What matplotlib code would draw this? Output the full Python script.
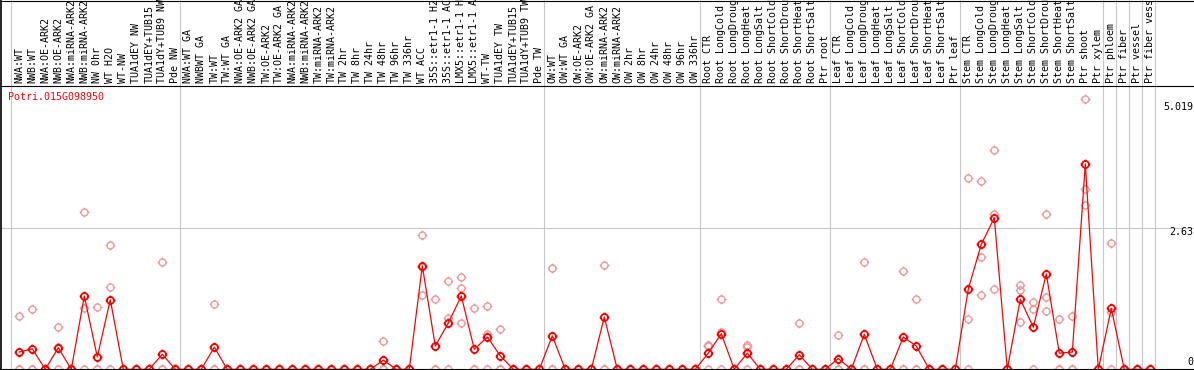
import numpy as np
import matplotlib.pyplot as plt
from matplotlib.path import Path

# sample names, in plotting order
labels = [
    "NWA:WT", "NWB:WT", "NWA:OE-ARK2", "NWB:OE-ARK2", "NWA:miRNA-ARK2", "NWB:miRNA-ARK2",
    "NW 0hr", "WT H2O", "WT-NW", "TUA1dEY NW", "TUA1dEY+TUB15", "TUA1dY+TUB9 NW", "Pde NW",
    "NWA:WT GA", "NWBWT GA", "TW:WT", "TW:WT GA", "NWA:OE-ARK2 GA", "NWB:OE-ARK2 GA",
    "TW:OE-ARK2", "TW:OE-ARK2 GA", "NWA:miRNA-ARK2", "NWB:miRNA-ARK2", "TW:miRNA-ARK2",
    "TW:miRNA-ARK2", "TW 2hr", "TW 8hr", "TW 24hr", "TW 48hr", "TW 96hr", "TW 336hr",
    "WT ACC", "35S::etr1-1 H2O", "35S::etr1-1 ACC", "LMX5::etr1-1 H2O", "LMX5::etr1-1 ACC",
    "WT-TW", "TUA1dEY TW", "TUA1dEY+TUB15", "TUA1dY+TUB9 TW", "Pde TW",
    "OW:WT", "OW:WT GA", "OW:OE-ARK2", "OW:OE-ARK2 GA", "OW:miRNA-ARK2", "OW:miRNA-ARK2",
    "OW 2hr", "OW 8hr", "OW 24hr", "OW 48hr", "OW 96hr", "OW 336hr",
    "Root CTR", "Root LongCold", "Root LongDrought", "Root LongHeat", "Root LongSalt",
    "Root ShortCold", "Root ShortDrought", "Root ShortHeat", "Root ShortSalt", "Ptr root",
    "Leaf CTR", "Leaf LongCold", "Leaf LongDrought", "Leaf LongHeat", "Leaf LongSalt",
    "Leaf ShortCold", "Leaf ShortDrought", "Leaf ShortHeat", "Leaf ShortSalt", "Ptr leaf",
    "Stem CTR", "Stem LongCold", "Stem LongDrought", "Stem LongHeat", "Stem LongSalt",
    "Stem ShortCold", "Stem ShortDrought", "Stem ShortHeat", "Stem ShortSalt", "Ptr shoot",
    "Ptr xylem", "Ptr phloem", "Ptr fiber", "Ptr vessel", "Ptr fiber vessel",
]
group_sizes = [13, 28, 12, 10, 10, 11, 1, 1, 1, 1]

means = [
    0.32, 0.38, 0, 0.40, 0, 1.36, 0.23, 1.29, 0, 0, 0, 0.28, 0,
    0, 0, 0.41, 0, 0, 0, 0, 0, 0, 0, 0, 0, 0, 0, 0, 0.17, 0, 0,
    1.92, 0.43, 0.86, 1.36, 0.37, 0.60, 0.25, 0, 0, 0,
    0.62, 0, 0, 0, 0.97, 0, 0, 0, 0, 0, 0, 0,
    0.30, 0.66, 0, 0.30, 0, 0, 0, 0.27, 0, 0,
    0.20, 0, 0.65, 0, 0, 0.60, 0.43, 0, 0, 0,
    1.49, 2.32, 2.81, 0, 1.30, 0.78, 1.77, 0.30, 0.32, 3.81, 0,
    1.13, 0, 0, 0,
]

reps = [
    (0.98, 0, 0), (1.12, 0, 0), (0, 0, 0), (0.78, 0.41, 0), (0, 0, 0), (2.92, 1.13, 0),
    (1.16, 0, 0), (2.31, 1.52, 0), (0, 0, 0), (0, 0, 0), (0, 0, 0), (1.99, 0, 0), (0, 0, 0),
    (0, 0, 0), (0, 0, 0), (1.22, 0, 0), (0, 0, 0), (0, 0, 0), (0, 0, 0), (0, 0, 0), (0, 0, 0),
    (0, 0, 0), (0, 0, 0), (0, 0, 0), (0, 0, 0), (0, 0, 0), (0, 0, 0), (0, 0, 0), (0.53, 0, 0),
    (0, 0, 0), (0, 0, 0), (2.50, 1.90, 1.38), (1.31, 0, 0), (1.64, 0.95, 0), (1.71, 1.51, 0.86),
    (1.13, 0, 0), (1.17, 0.66, 0), (0.75, 0, 0), (0, 0, 0), (0, 0, 0), (0, 0, 0),
    (1.88, 0, 0), (0, 0, 0), (0, 0, 0), (0, 0, 0), (1.93, 0, 0), (0, 0, 0),
    (0, 0, 0), (0, 0, 0), (0, 0, 0), (0, 0, 0), (0, 0, 0), (0, 0, 0),
    (0.46, 0.43, 0), (1.30, 0.70, 0), (0, 0, 0), (0.45, 0.42, 0), (0, 0, 0),
    (0, 0, 0), (0, 0, 0), (0.86, 0, 0), (0, 0, 0), (0, 0, 0),
    (0.63, 0, 0), (0, 0, 0), (1.99, 0, 0), (0, 0, 0), (0, 0, 0),
    (1.82, 0, 0), (1.30, 0, 0), (0, 0, 0), (0, 0, 0), (0, 0, 0),
    (3.55, 0.94, 0), (3.50, 2.09, 1.38), (4.07, 2.88, 1.49), (0, 0, 0), (1.57, 1.47, 0.87),
    (1.25, 1.11, 0), (2.88, 1.35, 1.08), (0.94, 0, 0), (0.99, 0, 0), (5.019, 3.35, 3.04), (0, 0, 0),
    (2.34, 1.06, 0), (0, 0, 0), (0, 0, 0), (0, 0, 0),
]

gene = "Potri.015G098950"
tick_vals = [5.019, 2.63, 0]
tick_txt = ["5.019", "2.63", "0"]

# pixel layout of the original picture
W, H = 1194, 370
X0, STEP = 19.3, 13.0      # centre of first sample, spacing (px)
Y0, SCALE = 369.3, 53.9    # row of zero, px per unit

def vx(px):
    return (px - X0) / STEP

def vy(py):
    return (Y0 - py) / SCALE

# circle with four little ticks, like the original markers
circ = Path.unit_circle()
verts = list(circ.vertices)
codes = list(circ.codes)
for a, b in [((0, 1), (0, 1.4)), ((0, -1), (0, -1.4)), ((1, 0), (1.4, 0)), ((-1, 0), (-1.4, 0))]:
    verts += [a, b]
    codes += [Path.MOVETO, Path.LINETO]
mk = Path(verts, codes)

fig = plt.figure(figsize=(W / 100, H / 100), dpi=100)
ax = fig.add_axes([0, 0, 1, 1])
ax.set_xlim(vx(0), vx(W))
ax.set_ylim(vy(H), vy(0))
ax.axis("off")

mono = "DejaVu Sans Mono"
grey = "#c8c8c8"

ax.axhline(tick_vals[1], color=grey, lw=0.8, zorder=1)
for b in np.cumsum([0] + group_sizes):
    ax.axvline(b - 0.64, color=grey, lw=0.8, zorder=1)

# frame
ax.axhline(vy(85.5), color="black", lw=0.8, zorder=5)
ax.axhline(vy(369.5), color="black", lw=1.5, zorder=5)
ax.axhline(vy(0.5), color="black", lw=0.8, zorder=5)
ax.axvline(vx(0.7), color="black", lw=1.2, zorder=5)

x = np.arange(len(labels))
r = np.array(reps)
for j in range(3):
    ax.plot(x, r[:, j], ls="none", marker=mk, ms=7, mfc="none", mec="#ee9999",
            mew=1.0, clip_on=False, zorder=2)
ax.plot(x, means, color="red", lw=0.9, marker=mk, ms=7, mfc="none", mec="red",
        mew=1.3, clip_on=False, zorder=3)

for i, lab in enumerate(labels):
    ax.text(i, vy(83), lab, rotation=90, ha="center", va="bottom",
            fontsize=7.2, family=mono, color="black")

ax.text(vx(8), vy(97.5), gene, color="red", ha="left", va="center",
        fontsize=7.2, family=mono)

for py, t in zip([107, 232, 362], tick_txt):
    ax.text(vx(1193), vy(py), t, ha="right", va="center", fontsize=7.2, family=mono)

fig.savefig("out.png", dpi=100)
